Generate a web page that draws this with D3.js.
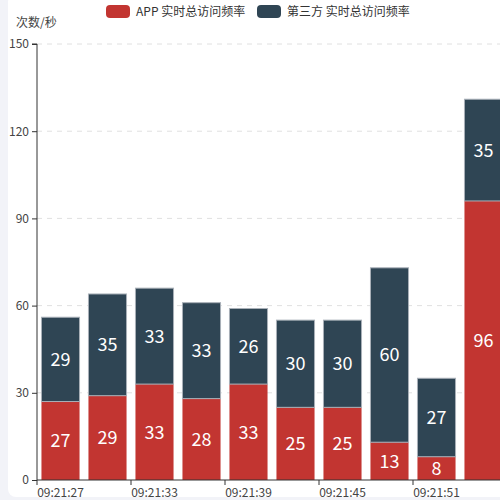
<!DOCTYPE html>
<html>
<head>
<meta charset="utf-8">
<script src="https://cdn.jsdelivr.net/npm/d3@7"></script>
<style>
  html, body { margin: 0; padding: 0; background: #f2f3f8; overflow: hidden; }
  #card { position: absolute; left: 8px; top: -6px; width: 520px; height: 503px; background: #fff; border-radius: 8px; }
  svg { position: absolute; left: 0; top: 0; font-family: "Noto Sans CJK SC", "Noto Sans", sans-serif; }
</style>
</head>
<body>
<div id="card"></div>
<svg id="chart" width="500" height="500"></svg>
<script>
// categories (seconds, one bar every 3s)
const times = ["09:21:27", "09:21:30", "09:21:33", "09:21:36", "09:21:39",
               "09:21:42", "09:21:45", "09:21:48", "09:21:51", "09:21:54"];
const appValues = [27, 29, 33, 28, 33, 25, 25, 13, 8, 96];
const thirdValues = [29, 35, 33, 33, 26, 30, 30, 60, 27, 35];
const seriesNames = ["APP 实时总访问频率", "第三方 实时总访问频率"];
const colors = ["#c23531", "#2f4554"];
const yTicks = [0, 30, 60, 90, 120, 150];

const margin = {top: 44, left: 37, bottom: 20};
const height = 500 - margin.top - margin.bottom;
const width = 470;

const svg = d3.select("#chart");
const g = svg.append("g").attr("transform", "translate(" + margin.left + "," + margin.top + ")");

const x = d3.scaleBand().domain(times).range([0, width]).paddingInner(0.19).paddingOuter(0.095);
const xb = d3.scaleBand().domain(times).range([0, width]); // full category slots, for ticks
const y = d3.scaleLinear().domain([0, 150]).range([height, 0]);

// grid
g.selectAll(".grid").data(yTicks.slice(1)).enter().append("line")
  .attr("x1", 0).attr("x2", width)
  .attr("y1", d => y(d)).attr("y2", d => y(d))
  .attr("stroke", "#e0e0e0").attr("stroke-dasharray", "5,5");

// stack
const rows = times.map((t, i) => ({t: t, app: appValues[i], third: thirdValues[i]}));
const stacked = d3.stack().keys(["app", "third"])(rows);

stacked.forEach((layer, si) => {
  const grp = g.append("g");
  grp.selectAll("rect").data(layer).enter().append("rect")
    .attr("x", d => x(d.data.t))
    .attr("width", x.bandwidth())
    .attr("y", d => y(d[1]))
    .attr("height", d => y(d[0]) - y(d[1]))
    .attr("fill", colors[si])
    .attr("stroke", si === 1 ? "#a9b0b8" : "none")
    .attr("stroke-width", si === 1 ? 1 : 0);
  grp.selectAll("text").data(layer).enter().append("text")
    .attr("x", d => x(d.data.t) + x.bandwidth() / 2)
    .attr("y", d => (y(d[0]) + y(d[1])) / 2)
    .attr("dy", "0.36em")
    .attr("text-anchor", "middle")
    .attr("fill", "#fff")
    .style("font-size", "18px")
    .text(d => d[1] - d[0]);
});

// y axis
const yAxis = g.append("g").call(d3.axisLeft(y).tickValues(yTicks).tickSize(5).tickPadding(3));
yAxis.select(".domain").attr("stroke", "#333").attr("d", "M0," + height + "V0H-5");
yAxis.selectAll(".tick line").attr("stroke", "#333");
yAxis.selectAll(".tick text").attr("fill", "#444").style("font-size", "12px")
  .style("font-family", "'Noto Sans CJK SC', sans-serif");

// x axis: ticks on every other category boundary, labels centered under category
const xg = g.append("g").attr("transform", "translate(0," + height + ")");
xg.append("line").attr("x1", 0).attr("x2", width).attr("stroke", "#333");
const shown = times.filter((t, i) => i % 2 === 0);
xg.selectAll(".xt").data(shown).enter().append("line")
  .attr("x1", d => xb(d)).attr("x2", d => xb(d))
  .attr("y1", 0).attr("y2", 5).attr("stroke", "#333");
xg.selectAll(".xl").data(shown).enter().append("text")
  .attr("x", d => xb(d) + xb.bandwidth() / 2)
  .attr("y", 17)
  .attr("text-anchor", "middle")
  .attr("fill", "#444")
  .style("font-size", "12px")
  .text(d => d);

// y axis name
svg.append("text").attr("x", 16).attr("y", 27).attr("fill", "#444")
  .style("font-size", "12px").text("次数/秒");

// legend
const legend = svg.append("g");
const legendX = [106, 257];
seriesNames.forEach((name, i) => {
  legend.append("rect").attr("x", legendX[i]).attr("y", 5).attr("width", 24).attr("height", 13)
    .attr("rx", 4).attr("fill", colors[i]);
  legend.append("text").attr("x", legendX[i] + 30).attr("y", 16).attr("fill", "#333")
    .style("font-size", "12px").text(name);
});
</script>
</body>
</html>
